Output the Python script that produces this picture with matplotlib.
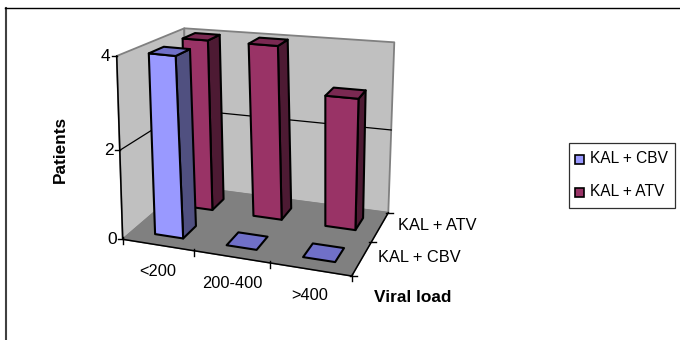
import numpy as np
import matplotlib
matplotlib.use("Agg")
import matplotlib.pyplot as plt
from matplotlib.patches import Polygon, Rectangle

plt.rcParams['font.family'] = ['Liberation Sans', 'DejaVu Sans']

# Chart data
viral_load = ['<200', '200-400', '>400']
regimens = ['KAL + CBV', 'KAL + ATV']
kal_cbv = [4, 0, 0]
kal_atv = [4, 4, 3]
value_ticks = [0, 2, 4]
value_max = 4

W, H = 680, 340
fig = plt.figure(figsize=(W / 100, H / 100), dpi=100)
ax = fig.add_axes([0, 0, 1, 1])
ax.set_xlim(0, W)
ax.set_ylim(H, 0)
ax.axis('off')


def homography(src, dst):
    rows = []
    for (x, y), (u, v) in zip(src, dst):
        rows.append([x, y, 1, 0, 0, 0, -u * x, -u * y, -u])
        rows.append([0, 0, 0, x, y, 1, -v * x, -v * y, -v])
    return np.linalg.svd(np.array(rows, float))[2][-1].reshape(3, 3)


# Plot box: category axis 0..3, series axis 0..2, mapped onto the box corners
box = [(0, 0), (3, 0), (3, 2), (0, 2)]
floor_h = homography(box, [(122.7, 239.3), (351.7, 276), (388.3, 212.7), (185, 186)])
roof_h = homography(box, [(116.7, 56), (362, 82), (394.3, 42.3), (184.3, 28.3)])


def proj(c, d, z=0.0):
    t = z / value_max
    t = t / (t + (1 - t) * 1.06)
    a = floor_h @ [c, d, 1]
    b = roof_h @ [c, d, 1]
    a = a[:2] / a[2]
    b = b[:2] / b[2]
    return tuple(a + (b - a) * t)


def face(pts, color, edge='black', lw=1.5, z=2):
    ax.add_patch(Polygon(pts, closed=True, facecolor=color, edgecolor=edge,
                         linewidth=lw, joinstyle='round', zorder=z))


# Chart frame: only the top and left sides are inside the canvas
ax.plot([6, 6], [7.5, 340], color='#404040', lw=1.5, zorder=0)
ax.plot([5, 680], [7.5, 7.5], color='black', lw=1.0, zorder=0)

# Walls and floor
grid = '#808080'
face([proj(0, 0, 0), proj(0, 2, 0), proj(0, 2, 4), proj(0, 0, 4)], '#C0C0C0', grid, 1.3, 1)
face([proj(0, 2, 0), proj(3, 2, 0), proj(3, 2, 4), proj(0, 2, 4)], '#C0C0C0', grid, 1.3, 1)
face([proj(0, 0, 0), proj(3, 0, 0), proj(3, 2, 0), proj(0, 2, 0)], '#808080', '#808080', 1, 1)

# Gridlines at the inner value level
for v in value_ticks[1:-1]:
    pts = [proj(0, 0, v), proj(0, 2, v), proj(3, 2, v)]
    ax.plot(*zip(*pts), color='black', lw=0.9, zorder=1.5)

# Axis lines and ticks
ax.plot(*zip(proj(0, 0, 0), proj(0, 0, 4)), color='black', lw=1.1, zorder=1.6)
ax.plot(*zip(proj(0, 0, 0), proj(3, 0, 0), proj(3, 2, 0)), color='black', lw=1.1, zorder=1.6)
for v in value_ticks:
    x, y = proj(0, 0, v)
    ax.plot([x - 5, x], [y, y], color='black', lw=1.0, zorder=1.6)
    ax.text(x - 6, y, str(v), ha='right', va='center', fontsize=12.5, color='black')
for c in range(4):
    x, y = proj(c, 0, 0)
    ax.plot([x, x], [y - 2, y + 5], color='black', lw=1.0, zorder=1.6)
for d in range(3):
    x, y = proj(3, d, 0)
    ax.plot([x - 2, x + 5], [y, y], color='black', lw=1.0, zorder=1.6)

half_c = 0.2
half_d = 0.21
offset_c = 0.025
series = [
    (1.5, kal_atv, '#993366', '#7A2952', '#4D1A33'),
    (0.5, kal_cbv, '#9999FF', '#7070C8', '#505080'),
]
order = 10
for depth, values, front, top, side in series:
    for i, val in enumerate(values):
        c0, c1 = i + 0.5 + offset_c - half_c, i + 0.5 + offset_c + half_c
        d0, d1 = depth - half_d, depth + half_d
        if val > 0:
            face([proj(c1, d0, 0), proj(c1, d1, 0), proj(c1, d1, val), proj(c1, d0, val)], side, z=order)
            face([proj(c0, d0, 0), proj(c1, d0, 0), proj(c1, d0, val), proj(c0, d0, val)], front, z=order)
        face([proj(c0, d0, val), proj(c1, d0, val), proj(c1, d1, val), proj(c0, d1, val)], top, z=order)
    order += 1

# Category, series and axis titles
label_size = 11.8
for (lx, ly), name in zip([(158, 272), (232, 284), (310, 296)], viral_load):
    ax.text(lx, ly, name, ha='center', va='center', fontsize=label_size)
ax.text(437.5, 225, regimens[1], ha='center', va='center', fontsize=label_size)
ax.text(419, 257.5, regimens[0], ha='center', va='center', fontsize=label_size)
ax.text(413, 297, 'Viral load', ha='center', va='center', fontsize=12.4, fontweight='bold')
ax.text(60, 149, 'Patients', ha='center', va='center', rotation=90, fontsize=12.4, fontweight='bold')

# Legend
ax.add_patch(Rectangle((568.5, 142.5), 106.5, 65.5, facecolor='white', edgecolor='#303030', lw=0.9, zorder=3))
for y, name, color in zip([159, 192], regimens, ['#9999FF', '#993366']):
    ax.add_patch(Rectangle((574.5, y - 4), 9, 9, facecolor=color, edgecolor='black', lw=1.2, zorder=4))
    ax.text(590, y - 0.5, name, ha='left', va='center', fontsize=11.2, zorder=4)

fig.savefig('out.png', dpi=100)
